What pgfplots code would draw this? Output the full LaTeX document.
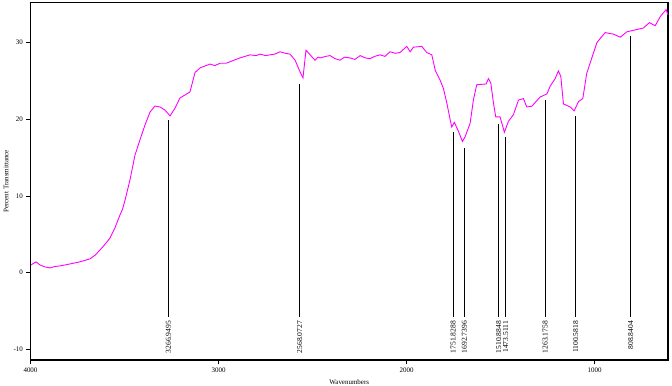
\documentclass[border=0pt]{standalone}
\usepackage{fontspec}
\setmainfont{Liberation Serif}
\usepackage{pgfplots}
\pgfplotsset{compat=1.18}
\begin{document}
\begin{tikzpicture}
\begin{axis}[
  scale only axis,
  width=637.5bp, height=357.3bp,
  x dir=reverse,
  xmin=610, xmax=4000,
  ymin=-11.4, ymax=35.2,
  xtick={1000,2000,3000,4000},
  ytick={-10,0,10,20,30},
  tick align=outside,
  major tick length=4bp,
  axis line style={line width=1.1bp},
  tick style={line width=0.8bp, black},
  xtick pos=bottom, ytick pos=left,
  /pgf/number format/assume math mode=true,
  /pgf/number format/1000 sep={},
  tick label style={font=\fontsize{7}{8}\selectfont},
  xlabel={Wavenumbers},
  ylabel={Percent Transmittance},
  label style={font=\fontsize{7}{8}\selectfont},
  xlabel style={at={(axis description cs:0.5,-0.0616)}, anchor=center},
  ylabel style={at={(axis description cs:-0.0384,0.5)}, anchor=center, rotate=0},
  clip=false,
]
\addplot[color={rgb,255:red,255;green,0;blue,255}, line width=0.9bp] coordinates {
(3997,1.0) (3971,1.4) (3950,1.0) (3923,0.74) (3896,0.61) (3870,0.8) (3843,0.87) (3815,1.0) (3790,1.13) (3737,1.4)
(3684,1.79) (3655,2.3) (3630,2.96) (3600,3.8) (3577,4.52) (3551,5.83) (3524,7.52) (3510,8.3) (3497,9.48) (3471,12.09)
(3444,15.35) (3418,17.3) (3391,19.26) (3364,20.95) (3338,21.73) (3311,21.6) (3285,21.2)
(3258,20.43) (3231,21.47) (3205,22.78) (3178,23.17) (3152,23.56) (3125,26.1) (3098,26.7)
(3045,27.2) (3020,27.0) (2992,27.3) (2960,27.3) (2939,27.5) (2886,28.0) (2833,28.4) (2800,28.3) (2779,28.5) (2750,28.3) (2726,28.4)
(2700,28.5) (2673,28.8) (2645,28.6) (2620,28.5) (2593,27.7) (2567,26.2) (2551,25.4) (2535,29.0) (2513,28.4)
(2487,27.7) (2470,28.1) (2460,28.0) (2430,28.2) (2407,28.3) (2380,27.9) (2354,27.7) (2330,28.1) (2301,28.0) (2275,27.8) (2247,28.3) (2220,28.0) (2194,27.9)
(2170,28.2) (2141,28.4) (2115,28.2) (2088,28.8) (2060,28.6) (2035,28.7) (1999,29.5) (1981,28.8) (1964,29.4) (1919,29.5)
(1893,28.7) (1866,28.4) (1848,26.4) (1822,25.1) (1804,24.0) (1786,22.1) (1768,19.9)
(1760,19.0) (1746,19.6) (1724,18.4) (1703,17.1) (1689,17.7) (1662,19.5) (1645,22.5)
(1627,24.5) (1577,24.6) (1565,25.3) (1552,24.7) (1538,22.1) (1526,20.3) (1503,20.3)
(1480,18.3) (1459,19.7) (1432,20.6) (1405,22.5) (1379,22.7) (1361,21.6) (1334,21.7)
(1290,22.9) (1254,23.3) (1237,24.3) (1210,25.3) (1193,26.3) (1180,25.6) (1166,22.0)
(1130,21.6) (1109,21.1) (1086,22.3) (1063,22.7) (1042,26.0) (1015,28.0) (988,30.0)
(965,30.7) (944,31.3) (900,31.1) (864,30.7) (829,31.4) (794,31.6) (741,31.9)
(709,32.6) (678,32.2) (651,33.4) (620,34.3) (610,33.6)
};
\addplot[black, line width=0.8bp] coordinates {(3266.9495,19.9) (3266.9495,-5.8)};
\addplot[black, line width=0.8bp] coordinates {(2568.0727,24.6) (2568.0727,-5.8)};
\addplot[black, line width=0.8bp] coordinates {(1751.8288,18.3) (1751.8288,-5.8)};
\addplot[black, line width=0.8bp] coordinates {(1692.7396,16.3) (1692.7396,-5.8)};
\addplot[black, line width=0.8bp] coordinates {(1510.8848,19.4) (1510.8848,-5.8)};
\addplot[black, line width=0.8bp] coordinates {(1473.5111,17.7) (1473.5111,-5.8)};
\addplot[black, line width=0.8bp] coordinates {(1263.1758,22.5) (1263.1758,-5.8)};
\addplot[black, line width=0.8bp] coordinates {(1100.5818,20.4) (1100.5818,-5.8)};
\addplot[black, line width=0.8bp] coordinates {(808.8404,30.9) (808.8404,-5.8)};
\begin{scope}[every node/.style={rotate=90, anchor=east, inner sep=0pt, font=\fontsize{7.6}{8}\selectfont}]
\node at (axis cs:3266.9495,-6.3) {3266.9495};
\node at (axis cs:2568.0727,-6.3) {2568.0727};
\node at (axis cs:1751.8288,-6.3) {1751.8288};
\node at (axis cs:1692.7396,-6.3) {1692.7396};
\node at (axis cs:1510.8848,-6.3) {1510.8848};
\node at (axis cs:1473.5111,-6.3) {1473.5111};
\node at (axis cs:1263.1758,-6.3) {1263.1758};
\node at (axis cs:1100.5818,-6.3) {1100.5818};
\node at (axis cs:808.8404,-6.3) {808.8404};
\end{scope}
\end{axis}
\pgfresetboundingbox
\path[use as bounding box] (-30.5bp,-26bp) rectangle (641.5bp,360bp);
\end{tikzpicture}
\end{document}
